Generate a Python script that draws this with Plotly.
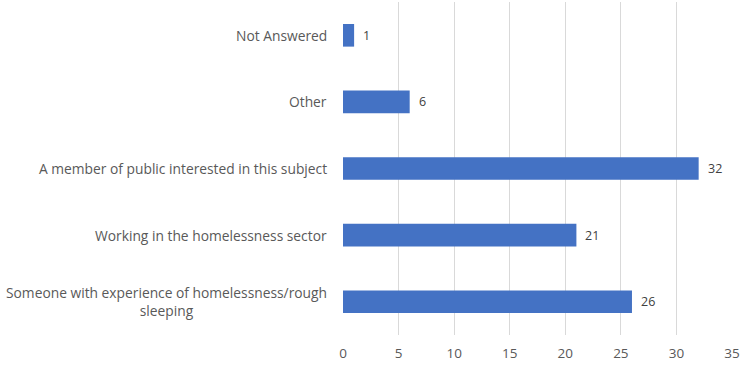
import plotly.graph_objects as go

categories = [
    "Not Answered",
    "Other",
    "A member of public interested in this subject",
    "Working in the homelessness sector",
    "Someone with experience of homelessness/rough<br>sleeping",
]
values = [1, 6, 32, 21, 26]
x_ticks = [0, 5, 10, 15, 20, 25, 30, 35]

FONT = "Open Sans"
GRAY = "#595959"

fig = go.Figure()
fig.add_trace(go.Bar(
    x=values,
    y=list(range(len(categories))),
    orientation="h",
    width=0.34,
    marker=dict(color="#4472C4", line=dict(width=0)),
    hoverinfo="skip",
))

annotations = []
for i, (c, v) in enumerate(zip(categories, values)):
    annotations.append(dict(
        x=0, xref="paper", y=i, yref="y", text=c, showarrow=False,
        xanchor="right", yanchor="middle", align="center", xshift=-14,
        font=dict(family=FONT, size=13.8, color=GRAY),
    ))
    annotations.append(dict(
        x=v, xref="x", y=i, yref="y", text=str(v), showarrow=False,
        xanchor="left", yanchor="middle", xshift=7,
        font=dict(family=FONT, size=12.5, color="#404040"),
    ))

fig.update_layout(
    width=741, height=365,
    margin=dict(l=343, r=9, t=2, b=30),
    plot_bgcolor="white", paper_bgcolor="white",
    showlegend=False,
    annotations=annotations,
    xaxis=dict(
        range=[0, 35], tickvals=x_ticks, ticktext=[str(t) for t in x_ticks],
        showgrid=True, gridcolor="#D9D9D9", gridwidth=1, zeroline=False,
        showline=False, ticks="", ticklabelstandoff=8,
        tickfont=dict(family=FONT, size=13.5, color=GRAY), fixedrange=True,
    ),
    yaxis=dict(
        range=[4.5, -0.5], showticklabels=False, showgrid=False,
        zeroline=False, showline=False, ticks="", fixedrange=True,
    ),
)

fig.write_html("out.html")
